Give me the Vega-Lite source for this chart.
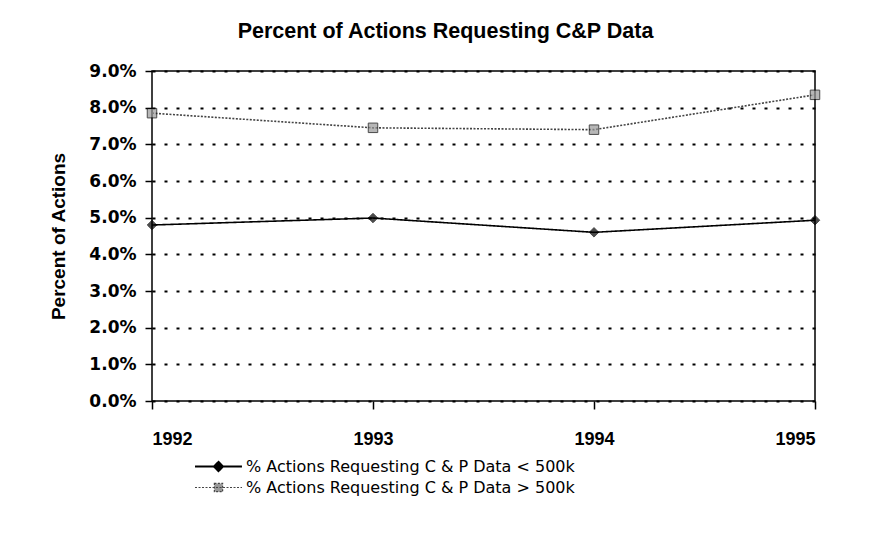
{
  "$schema": "https://vega.github.io/schema/vega-lite/v6.json",
  "autosize": "none",
  "width": 663,
  "height": 330,
  "padding": {"left": 152, "top": 71, "right": 62, "bottom": 133},
  "background": "white",
  "config": {
    "view": {"stroke": "black", "strokeWidth": 1.5},
    "font": "Liberation Sans"
  },
  "title": {
    "text": "Percent of Actions Requesting C&P Data",
    "font": "Liberation Sans",
    "fontSize": 21.5,
    "fontWeight": "bold",
    "color": "black",
    "offset": 20,
    "anchor": "middle",
    "dx": -38
  },
  "data": {
    "values": [
      {"series": "% Actions Requesting C & P Data < 500k", "year": 1992, "value": 0.0480},
      {"series": "% Actions Requesting C & P Data < 500k", "year": 1993, "value": 0.0499},
      {"series": "% Actions Requesting C & P Data < 500k", "year": 1994, "value": 0.0460},
      {"series": "% Actions Requesting C & P Data < 500k", "year": 1995, "value": 0.0493},
      {"series": "% Actions Requesting C & P Data > 500k", "year": 1992, "value": 0.0785},
      {"series": "% Actions Requesting C & P Data > 500k", "year": 1993, "value": 0.0745},
      {"series": "% Actions Requesting C & P Data > 500k", "year": 1994, "value": 0.0740},
      {"series": "% Actions Requesting C & P Data > 500k", "year": 1995, "value": 0.0835}
    ]
  },
  "encoding": {
    "x": {
      "field": "year",
      "type": "quantitative",
      "scale": {"domain": [1992, 1995], "nice": false, "zero": false},
      "axis": {
        "title": null,
        "values": [1992, 1993, 1994, 1995],
        "format": "d",
        "grid": false,
        "domain": false,
        "tickColor": "black",
        "tickSize": 8,
        "tickWidth": 1.5,
        "labelPadding": 21,
        "labelFontSize": 18,
        "labelFontWeight": "bold",
        "labelColor": "black",
        "labelFont": "Liberation Sans"
      }
    },
    "y": {
      "field": "value",
      "type": "quantitative",
      "scale": {"domain": [0, 0.09], "nice": false},
      "axis": {
        "title": "Percent of Actions",
        "titleFontSize": 19,
        "titleFontWeight": "bold",
        "titleColor": "black",
        "titlePadding": 20,
        "titleFont": "Liberation Sans",
        "values": [0, 0.01, 0.02, 0.03, 0.04, 0.05, 0.06, 0.07, 0.08, 0.09],
        "format": ".1%",
        "domain": false,
        "tickColor": "black",
        "tickSize": 7,
        "tickWidth": 1.5,
        "labelPadding": 9,
        "labelFontSize": 17,
        "labelFontWeight": "bold",
        "labelColor": "black",
        "labelFont": "DejaVu Sans",
        "gridColor": "black",
        "gridWidth": 2,
        "gridDash": [3, 9],
        "gridOpacity": 1
      }
    }
  },
  "layer": [
    {
      "mark": {"type": "line", "strokeWidth": 1.6},
      "encoding": {
        "color": {
          "field": "series",
          "type": "nominal",
          "scale": {"range": ["black", "#444444"]},
          "legend": {
            "title": null,
            "orient": "none",
            "legendX": 58,
            "legendY": 387,
            "direction": "vertical",
            "labelFontSize": 16,
            "labelColor": "black",
            "labelFont": "DejaVu Sans",
            "labelLimit": 600,
            "symbolSize": 225,
            "symbolStrokeWidth": 1.5,
            "labelOffset": 19,
            "rowPadding": 4,
            "encode": {
              "symbols": {
                "update": {
                  "shape": {"signal": "indexof(datum.value, '<') > 0 ? 'M-3.13,0H3.13M0,-0.63L0.63,0L0,0.63L-0.63,0Z' : 'M-3.13,0H3.13M-0.55,-0.55H0.55V0.55H-0.55Z'"},
                  "fill": {"signal": "indexof(datum.value, '<') > 0 ? 'black' : '#999999'"},
                  "stroke": {"value": "black"}
                }
              }
            }
          }
        },
        "strokeDash": {
          "field": "series",
          "type": "nominal",
          "scale": {"range": [[1, 0], [2, 1.5]]},
          "legend": null
        },
        "strokeWidth": {
          "field": "series",
          "type": "nominal",
          "scale": {"range": [1.8, 1.2]},
          "legend": null
        }
      }
    },
    {
      "mark": {"type": "point", "filled": true, "size": 90, "stroke": "black", "strokeWidth": 1},
      "encoding": {
        "shape": {
          "field": "series",
          "type": "nominal",
          "scale": {"range": ["diamond", "square"]},
          "legend": null
        },
        "fill": {
          "field": "series",
          "type": "nominal",
          "scale": {"range": ["black", "#999999"]},
          "legend": null
        }
      }
    }
  ]
}
